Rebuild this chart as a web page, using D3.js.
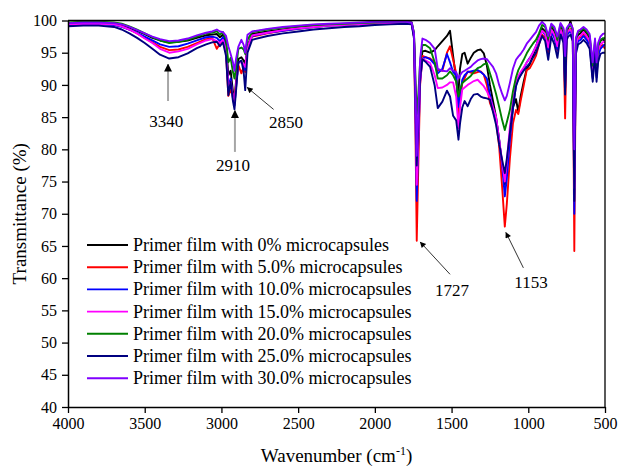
<!DOCTYPE html>
<html>
<head>
<meta charset="utf-8">
<script src="https://cdn.jsdelivr.net/npm/d3@7"></script>
<style>
  body { margin: 0; background: #fff; }
  svg { display: block; font-family: "Liberation Serif", "DejaVu Serif", serif; }
</style>
</head>
<body>
<svg width="618" height="466"></svg>
<script>
// wavenumber grid (cm-1) shared by all spectra
var wavenumber = [
  4000, 3900, 3800, 3700, 3650, 3600, 3550, 3500, 3450, 3400,
  3340, 3280, 3220, 3160, 3100, 3060, 3030, 3010, 2990, 2970,
  2955, 2940, 2925, 2915, 2905, 2890, 2870, 2855, 2845, 2830,
  2800, 2700, 2600, 2500, 2400, 2300, 2200, 2100, 2000, 1900,
  1800, 1760, 1745, 1735, 1727, 1718, 1705, 1690, 1670, 1640,
  1610, 1590, 1560, 1530, 1510, 1490, 1470, 1455, 1445, 1430,
  1415, 1395, 1375, 1355, 1330, 1310, 1290, 1270, 1250, 1230,
  1210, 1190, 1170, 1153, 1140, 1120, 1100, 1080, 1065, 1050,
  1030, 1010, 990, 970, 950, 930, 910, 890, 870, 850,
  830, 810, 790, 770, 760, 750, 740, 725, 710, 700,
  690, 675, 660, 640, 620, 600, 580, 565, 555, 545,
  530, 515, 500
];

var t0 = [
  99.6, 99.7, 99.7, 99.6, 99.3, 98.9, 98.4, 97.9, 97.3, 96.9,
  96.6, 96.7, 96.9, 97.3, 97.7, 97.8, 97.9, 97.4, 97.8, 96.5,
  91.5, 92.2, 89.0, 87.6, 90.5, 94.0, 94.3, 93.8, 93.2, 96.0,
  97.9, 98.3, 98.6, 98.9, 99.1, 99.3, 99.4, 99.5, 99.6, 99.7,
  99.8, 99.7, 98.0, 88.0, 78.0, 83.0, 92.0, 95.2, 95.3, 95.0,
  95.4, 96.0, 96.8, 97.6, 98.4, 94.5, 90.8, 89.0, 92.5, 94.8,
  95.0, 93.3, 94.2, 95.0, 95.4, 95.5, 94.9, 93.0, 90.0, 87.5,
  85.0, 81.5, 77.5, 74.5, 77.0, 82.0, 86.5, 87.8, 85.8, 88.2,
  90.5, 92.5, 93.2, 94.5, 95.8, 97.5, 98.8, 98.3, 96.5, 99.0,
  98.3, 96.0, 99.0, 98.0, 93.0, 98.0, 98.8, 99.9, 98.5, 75.0,
  96.5, 97.8, 98.0, 98.6, 98.0, 97.3, 92.0, 96.5, 92.5, 95.8,
  96.8, 97.2, 96.6
];

var t5 = [
  99.4, 99.5, 99.5, 99.4, 99.1, 98.6, 98.0, 97.3, 96.6, 95.9,
  95.4, 95.5, 95.9, 96.5, 97.1, 97.3, 95.6, 96.4, 96.8, 95.0,
  88.3, 89.2, 88.6, 87.9, 90.0, 93.1, 91.8, 92.8, 92.0, 95.8,
  97.5, 98.0, 98.4, 98.7, 99.0, 99.2, 99.3, 99.4, 99.5, 99.6,
  99.7, 99.6, 97.5, 82.0, 65.8, 76.0, 90.0, 94.5, 94.3, 94.1,
  93.5, 92.3, 92.2, 95.0, 96.0, 93.9, 91.8, 84.0, 87.5, 90.3,
  91.0, 92.1, 91.9, 91.8, 92.0, 92.1, 91.6, 90.0, 87.2, 86.0,
  84.5, 80.5, 74.0, 68.0, 71.5, 78.5, 84.0, 86.1, 85.5, 87.5,
  89.9, 92.3, 92.6, 93.5, 94.5, 96.3, 97.8, 97.3, 95.0, 98.3,
  97.6, 95.3, 98.6, 97.3, 84.8, 97.6, 98.4, 98.7, 97.8, 64.2,
  95.8, 97.2, 97.4, 98.0, 97.4, 96.7, 91.2, 95.8, 91.5, 94.8,
  96.0, 96.2, 95.6
];

var t10 = [
  99.3, 99.4, 99.4, 99.3, 99.0, 98.6, 98.1, 97.5, 96.9, 96.3,
  95.9, 96.0, 96.4, 96.9, 97.4, 97.5, 97.3, 96.8, 97.4, 95.5,
  89.8, 91.0, 88.0, 86.8, 89.5, 93.4, 93.6, 93.0, 92.3, 95.8,
  97.6, 98.1, 98.4, 98.7, 99.0, 99.2, 99.3, 99.4, 99.5, 99.6,
  99.6, 99.5, 97.5, 85.0, 72.0, 80.0, 90.5, 94.1, 94.3, 94.0,
  93.2, 91.8, 92.5, 94.8, 93.5, 92.0, 91.5, 86.6, 88.5, 90.8,
  91.5, 92.0, 92.1, 92.2, 92.3, 92.0, 91.6, 91.0, 88.5, 86.5,
  84.8, 81.5, 77.5, 72.7, 75.5, 81.5, 86.3, 90.0, 91.0, 91.5,
  92.5, 93.5, 94.2, 95.0, 96.0, 97.3, 98.4, 97.8, 95.5, 98.2,
  97.3, 95.5, 98.4, 97.0, 89.5, 97.5, 98.0, 98.3, 97.5, 70.0,
  95.5, 96.8, 97.0, 97.6, 97.0, 96.2, 91.0, 95.3, 91.2, 94.5,
  95.6, 96.0, 96.3
];

var t15 = [
  99.4, 99.5, 99.5, 99.4, 99.1, 98.6, 98.0, 97.2, 96.5, 95.6,
  95.0, 95.2, 95.6, 96.3, 96.9, 97.1, 96.8, 96.5, 97.0, 95.5,
  89.5, 90.5, 88.0, 87.0, 89.8, 93.5, 93.5, 93.2, 92.8, 95.8,
  97.7, 98.1, 98.5, 98.8, 99.0, 99.2, 99.3, 99.4, 99.5, 99.6,
  99.7, 99.6, 97.5, 86.0, 74.5, 81.0, 90.5, 94.1, 93.8, 93.4,
  91.5, 89.5, 89.6, 90.0, 90.4, 90.4, 88.2, 83.3, 86.5, 89.3,
  89.6, 90.0, 90.3, 90.6, 90.8, 90.3, 89.8, 89.0, 88.0, 86.5,
  85.0, 81.5, 78.0, 75.0, 78.0, 83.5, 87.5, 90.5, 91.4, 92.0,
  92.7, 93.5, 94.1, 95.0, 96.0, 97.2, 98.4, 98.0, 95.8, 98.6,
  97.8, 96.0, 98.6, 97.5, 92.0, 98.0, 98.4, 98.6, 97.8, 74.0,
  96.2, 97.4, 97.6, 98.2, 97.6, 96.8, 92.3, 96.0, 92.5, 95.3,
  96.3, 96.6, 96.8
];

var t20 = [
  99.7, 99.8, 99.8, 99.7, 99.5, 99.1, 98.6, 98.0, 97.4, 96.9,
  96.5, 96.7, 97.0, 97.5, 98.0, 98.1, 98.3, 97.8, 98.2, 97.0,
  93.5, 94.2, 92.0, 91.0, 92.5, 95.6, 95.8, 95.5, 94.8, 97.0,
  98.2, 98.6, 98.9, 99.1, 99.3, 99.4, 99.5, 99.6, 99.7, 99.8,
  99.8, 99.7, 98.0, 91.0, 85.5, 88.0, 93.5, 96.2, 96.2, 95.7,
  93.5, 91.0, 91.0, 91.5, 92.1, 91.5, 90.5, 88.2, 89.2, 90.3,
  90.6, 91.0, 91.4, 92.0, 92.6, 92.8, 93.2, 93.4, 91.8, 90.3,
  88.6, 86.6, 84.5, 83.0, 84.2, 86.1, 89.0, 91.2, 92.3, 93.0,
  93.9, 94.9, 95.7, 96.4, 97.0, 98.0, 99.3, 99.0, 97.2, 99.3,
  98.8, 97.0, 99.4, 98.5, 93.5, 98.5, 99.0, 99.3, 98.5, 80.0,
  97.0, 98.2, 98.4, 98.8, 98.3, 97.6, 93.0, 96.8, 93.0, 96.0,
  97.0, 97.2, 97.3
];

var t25 = [
  99.1, 99.2, 99.2, 99.0, 98.6, 98.0, 97.3, 96.5, 95.6, 94.7,
  94.1, 94.3, 94.9, 95.7, 96.3, 96.6, 96.7, 96.0, 96.6, 94.5,
  88.4, 90.5, 87.5, 86.2, 89.0, 93.5, 93.8, 92.0, 89.2, 95.0,
  97.0, 97.6, 98.0, 98.3, 98.6, 98.8, 99.0, 99.1, 99.3, 99.4,
  99.5, 99.4, 97.2, 87.0, 77.5, 83.0, 91.0, 94.0, 93.6, 92.8,
  89.9, 86.4, 87.4, 89.1, 88.2, 85.2, 84.5, 81.5, 84.0, 86.5,
  87.5, 86.7, 87.8, 88.5, 88.6, 88.2, 88.0, 87.9, 87.7, 85.8,
  83.8, 80.8, 78.3, 76.3, 78.5, 82.5, 86.6, 89.8, 90.8, 91.5,
  92.2, 92.8, 93.4, 94.2, 95.0, 96.3, 97.6, 96.8, 93.9, 97.5,
  96.3, 94.2, 97.8, 96.5, 88.5, 97.0, 97.5, 97.8, 96.8, 72.0,
  94.8, 96.3, 96.5, 97.0, 96.5, 95.6, 90.5, 94.8, 90.5, 93.5,
  94.8, 95.0, 95.0
];

var t30 = [
  99.6, 99.7, 99.7, 99.6, 99.4, 99.0, 98.5, 98.0, 97.5, 97.1,
  96.8, 96.9, 97.2, 97.7, 98.1, 98.3, 98.6, 98.3, 98.2, 97.6,
  96.0, 94.8, 93.5, 92.2, 94.0, 95.9, 97.0, 96.2, 95.0, 97.8,
  98.3, 98.7, 99.0, 99.2, 99.4, 99.5, 99.6, 99.7, 99.8, 99.8,
  99.8, 99.7, 98.0, 89.0, 79.0, 85.0, 94.0, 97.2, 97.0, 96.5,
  95.6, 92.5, 92.2, 92.1, 92.6, 92.2, 92.0, 91.0, 91.5, 92.0,
  92.2, 92.5, 92.8, 93.3, 93.8, 94.0, 94.1, 94.0, 93.4, 92.8,
  91.8, 90.0, 88.6, 87.6, 88.3, 90.3, 92.5, 93.9, 94.4, 94.8,
  95.5, 96.4, 97.0, 97.6, 98.2, 99.2, 99.8, 99.3, 97.6, 99.5,
  99.0, 97.5, 99.6, 98.8, 94.5, 98.8, 99.2, 99.5, 98.8, 80.0,
  97.3, 98.4, 98.6, 99.0, 98.6, 97.9, 93.5, 97.2, 93.5, 96.5,
  97.5, 97.9, 98.0
];

var seriesNames = [
  'Primer film with 0% microcapsules',
  'Primer film with 5.0% microcapsules',
  'Primer film with 10.0% microcapsules',
  'Primer film with 15.0% microcapsules',
  'Primer film with 20.0% microcapsules',
  'Primer film with 25.0% microcapsules',
  'Primer film with 30.0% microcapsules'
];
var seriesValues = [t0, t5, t10, t15, t20, t25, t30];
var colors = ['#000000', '#ff0000', '#0000ff', '#ff00ff', '#008000', '#000080', '#8000ff'];

var xTicks = [4000, 3500, 3000, 2500, 2000, 1500, 1000, 500];
var yTicks = [40, 45, 50, 55, 60, 65, 70, 75, 80, 85, 90, 95, 100];

// peak labels: text position, arrow tail and arrow head (wavenumber, %T)
var peakLabels = ['3340', '2910', '2850', '1727', '1153'];
var labelAt = [[3360, 83.5], [2925, 76.6], [2579, 83.3], [1497, 57.2], [982, 58.4]];
var arrowFrom = [[3348, 87.5], [2912, 79.6], [2660, 86.2], [1510, 60.6], [1032, 61.6]];
var arrowTo = [[3348, 93.2], [2912, 86.0], [2832, 89.6], [1704, 65.6], [1146, 67.1]];
var arrowGrey = [true, true, false, false, false];

var width = 618;
var height = 466;
var margin = {top: 20.5, right: 13, bottom: 59, left: 68};
var innerW = width - margin.left - margin.right;
var innerH = height - margin.top - margin.bottom;
var serif = '"Liberation Serif", "DejaVu Serif", serif';

var svg = d3.select('svg');

var x = d3.scaleLinear().domain([4000, 500]).range([0, innerW]);
var y = d3.scaleLinear().domain([40, 100]).range([innerH, 0]);

var defs = svg.append('defs');
defs.append('clipPath').attr('id', 'plotclip')
  .append('rect').attr('x', 0).attr('y', -2).attr('width', innerW).attr('height', innerH + 2);

defs.append('marker')
  .attr('id', 'headGrey')
  .attr('viewBox', '0 0 10 10')
  .attr('refX', 9).attr('refY', 5)
  .attr('markerWidth', 4).attr('markerHeight', 5)
  .attr('markerUnits', 'strokeWidth')
  .attr('orient', 'auto')
  .append('path').attr('d', 'M0,0L10,5L0,10Z').attr('fill', '#000');

defs.append('marker')
  .attr('id', 'headBlack')
  .attr('viewBox', '0 0 10 10')
  .attr('refX', 9).attr('refY', 5)
  .attr('markerWidth', 9).attr('markerHeight', 6)
  .attr('markerUnits', 'userSpaceOnUse')
  .attr('orient', 'auto')
  .append('path').attr('d', 'M0,0L10,5L0,10Z').attr('fill', '#000');

var g = svg.append('g')
  .attr('transform', 'translate(' + margin.left + ',' + margin.top + ')');

var line = d3.line()
  .x(d => x(d[0]))
  .y(d => y(d[1]));

g.append('g')
  .attr('clip-path', 'url(#plotclip)')
  .selectAll('path')
  .data(seriesValues)
  .enter()
  .append('path')
  .attr('d', vals => line(wavenumber.map((w, i) => [w, vals[i]])))
  .attr('fill', 'none')
  .attr('stroke', (d, i) => colors[i])
  .attr('stroke-width', 1.9)
  .attr('stroke-linejoin', 'round');

// frame
g.append('line').attr('x1', 0).attr('x2', innerW).attr('y1', 0).attr('y2', 0)
  .attr('stroke', '#000').attr('stroke-width', 1.3);
g.append('line').attr('x1', innerW).attr('x2', innerW).attr('y1', 0).attr('y2', innerH)
  .attr('stroke', '#000').attr('stroke-width', 1.3);

var xAxis = g.append('g')
  .attr('transform', 'translate(0,' + innerH + ')')
  .call(d3.axisBottom(x).tickValues(xTicks).tickFormat(d3.format('d')).tickSizeOuter(0).tickPadding(5));
var yAxis = g.append('g')
  .call(d3.axisLeft(y).tickValues(yTicks).tickFormat(d3.format('d')).tickSizeOuter(0).tickPadding(5));

[xAxis, yAxis].forEach(function(ax) {
  ax.attr('font-family', serif);
  ax.select('.domain').attr('stroke', '#000').attr('stroke-width', 1.5);
  ax.selectAll('.tick line').attr('stroke', '#000').attr('stroke-width', 1.3);
  ax.selectAll('.tick text')
    .attr('fill', '#000')
    .style('font-family', serif)
    .style('font-size', '16px');
});

// axis titles
var xTitle = svg.append('text')
  .attr('x', margin.left + innerW / 2)
  .attr('y', 462)
  .attr('text-anchor', 'middle')
  .style('font-family', serif)
  .style('font-size', '19px');
xTitle.append('tspan').text('Wavenumber (cm');
xTitle.append('tspan').attr('dy', -7).style('font-size', '12px').text('-1');
xTitle.append('tspan').attr('dy', 7).text(')');

svg.append('text')
  .attr('transform', 'translate(26,' + (margin.top + innerH / 2) + ') rotate(-90)')
  .attr('text-anchor', 'middle')
  .style('font-family', serif)
  .style('font-size', '19px')
  .text('Transmittance (%)');

// peak annotations
peakLabels.forEach(function(lab, i) {
  g.append('line')
    .attr('x1', x(arrowFrom[i][0])).attr('y1', y(arrowFrom[i][1]))
    .attr('x2', x(arrowTo[i][0])).attr('y2', y(arrowTo[i][1]))
    .attr('stroke', arrowGrey[i] ? '#a6a6a6' : '#333')
    .attr('stroke-width', arrowGrey[i] ? 2 : 1)
    .attr('marker-end', arrowGrey[i] ? 'url(#headGrey)' : 'url(#headBlack)');
  g.append('text')
    .attr('x', x(labelAt[i][0]))
    .attr('y', y(labelAt[i][1]))
    .attr('text-anchor', 'middle')
    .style('font-family', serif)
    .style('font-size', '17px')
    .text(lab);
});

// legend
var legend = g.append('g')
  .attr('transform', 'translate(19,224.5)');
var rows = legend.selectAll('g')
  .data(seriesNames)
  .enter()
  .append('g')
  .attr('transform', (d, i) => 'translate(0,' + (i * 22.2) + ')');
rows.append('line')
  .attr('x1', 0).attr('x2', 41)
  .attr('stroke', (d, i) => colors[i])
  .attr('stroke-width', 1.9);
rows.append('text')
  .attr('x', 46)
  .attr('y', 6)
  .style('font-family', serif)
  .style('font-size', '18px')
  .text(d => d);
</script>
</body>
</html>
